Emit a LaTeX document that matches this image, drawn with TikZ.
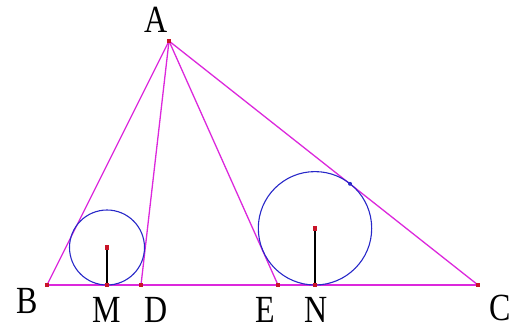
\documentclass[tikz,border=0pt]{standalone}
\usepackage{graphicx}
\usepackage{fontspec}
\setmainfont{Liberation Serif}
\definecolor{segcol}{RGB}{220,40,220}
\definecolor{circcol}{RGB}{40,40,200}
\definecolor{dotcol}{RGB}{200,20,40}
\newcommand{\tallletter}[1]{\scalebox{1}[1.2]{#1}}
\tikzset{
  seg/.style={draw=segcol, line width=1.3pt},
  circ/.style={draw=circcol, line width=1.1pt},
  radius line/.style={draw=black, line width=1.1pt},
  ptdot/.style={fill=dotcol, draw=none, minimum size=4.5pt, inner sep=0pt, rectangle},
  lbl/.style={font=\fontsize{32}{32}\selectfont, inner sep=0pt, text=black, anchor=base, text depth=0pt},
}
\begin{document}
\begin{tikzpicture}[x=1pt,y=-1pt]
\useasboundingbox (0,0) rectangle (514,329);
\coordinate (A) at (169,41);
\coordinate (B) at (47,285);
\coordinate (C) at (478,285);
\coordinate (D) at (141,285);
\coordinate (E) at (278,285);
\coordinate (M) at (107,285);
\coordinate (N) at (315,285);
\coordinate (O1) at (107,247.5);
\coordinate (O2) at (315,228.3);
\coordinate (T) at (350,183.8);
% triangle sides and cevians
\draw[seg] (B) -- (C);
\draw[seg] (A) -- (B);
\draw[seg] (A) -- (D);
\draw[seg] (A) -- (E);
\draw[seg] (A) -- (C);
% circles
\draw[circ] (O1) circle (37.5);
\draw[circ] (O2) circle (56.7);
% radii
\draw[radius line] (O1) -- (M);
\draw[radius line] (O2) -- (N);
% dots
\foreach \p in {A,B,C,D,E,M,N,O1,O2} \node[ptdot] (d\p) at (\p) {};
\node[fill=circcol, circle, inner sep=0pt, minimum size=4pt] (dT) at (T) {};
% labels
\node[lbl] (lA) at (156,33) {\tallletter{A}};
\node[lbl] (lB) at (27,313) {\tallletter{B}};
\node[lbl] (lM) at (107,322) {\tallletter{M}};
\node[lbl] (lD) at (156,322) {\tallletter{D}};
\node[lbl] (lE) at (265,322) {\tallletter{E}};
\node[lbl] (lN) at (316,322) {\tallletter{N}};
\node[lbl] (lC) at (500,320) {\tallletter{C}};
\end{tikzpicture}
\end{document}
